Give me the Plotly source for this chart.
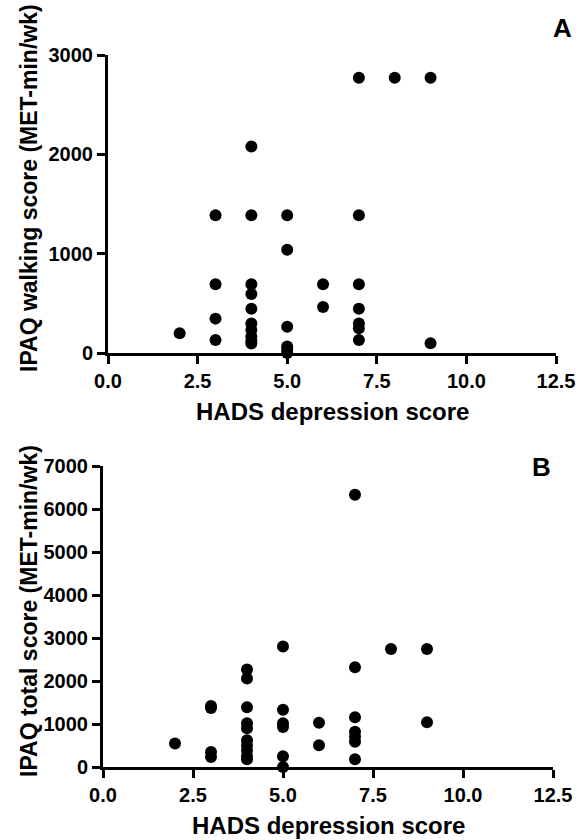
import plotly.graph_objects as go

# Panel A: HADS depression score vs IPAQ walking score
walk_x = [2,
          3, 3, 3, 3,
          4, 4, 4, 4, 4, 4, 4, 4, 4, 4,
          5, 5, 5, 5, 5, 5,
          6, 6,
          7, 7, 7, 7, 7, 7, 7,
          8,
          9, 9]
walk_y = [198,
          1386, 693, 346, 132,
          2079, 1386, 693, 594, 446, 297, 231, 165, 120, 95,
          1386, 1040, 264, 66, 33, 0,
          693, 462,
          2772, 1386, 693, 446, 297, 248, 132,
          2772,
          2772, 99]

# Panel B: HADS depression score vs IPAQ total score
total_x = [2,
           3, 3, 3, 3,
           4, 4, 4, 4, 4, 4, 4, 4, 4, 4,
           5, 5, 5, 5, 5, 5,
           6, 6,
           7, 7, 7, 7, 7, 7, 7,
           8,
           9, 9]
total_y = [545,
           1420, 1370, 350, 230,
           2270, 2060, 1390, 1020, 900, 620, 500, 380, 250, 180,
           2800, 1330, 1020, 930, 250, 0,
           1030, 505,
           6330, 2320, 1156, 821, 705, 589, 179,
           2745,
           2745, 1040]

x_ticks = [0, 2.5, 5.0, 7.5, 10.0, 12.5]
x_ticktext = ["0.0", "2.5", "5.0", "7.5", "10.0", "12.5"]
a_yticks = [0, 1000, 2000, 3000]
b_yticks = [0, 1000, 2000, 3000, 4000, 5000, 6000, 7000]

W, H = 585, 840
FONT = "Liberation Sans, Arial, sans-serif"

def px(v):
    return v / W

def py(v):
    return 1 - v / H

fig = go.Figure()
mk = dict(color="black", size=12)
fig.add_trace(go.Scatter(x=walk_x, y=walk_y, mode="markers", marker=mk,
                         xaxis="x", yaxis="y", cliponaxis=False, showlegend=False))
fig.add_trace(go.Scatter(x=total_x, y=total_y, mode="markers", marker=mk,
                         xaxis="x2", yaxis="y2", cliponaxis=False, showlegend=False))

axis_common = dict(showline=True, linewidth=3, linecolor="black", ticks="outside",
                   ticklen=8, tickwidth=3, tickcolor="black", showgrid=False,
                   zeroline=False, automargin=False,
                   tickfont=dict(family=FONT, size=20, color="black", weight="bold"))

fig.update_layout(
    template="none",
    width=W, height=H,
    margin=dict(l=0, r=0, t=0, b=0, pad=0),
    paper_bgcolor="white", plot_bgcolor="white",
    font=dict(family=FONT, color="black"),
    xaxis=dict(domain=[px(108), px(556)], range=[0, 12.5], tickvals=x_ticks,
               ticktext=x_ticktext, anchor="y", **axis_common),
    yaxis=dict(domain=[py(353), py(55)], range=[0, 3000], tickvals=a_yticks,
               anchor="x", **axis_common),
    xaxis2=dict(domain=[px(103), px(553)], range=[0, 12.5], tickvals=x_ticks,
                ticktext=x_ticktext, anchor="y2", **axis_common),
    yaxis2=dict(domain=[py(767), py(466)], range=[0, 7000], tickvals=b_yticks,
                anchor="x2", **axis_common),
)

def ann(text, x, y, size, angle=0):
    fig.add_annotation(text=text, x=px(x), y=py(y), xref="paper", yref="paper",
                       showarrow=False, textangle=angle, xanchor="center", yanchor="middle",
                       font=dict(family=FONT, size=size, color="black", weight="bold"))

ann("HADS depression score", 332, 411, 24)
ann("HADS depression score", 328, 825, 24)
ann("IPAQ walking score (MET-min/wk)", 29, 188, 23, -90)
ann("IPAQ total score (MET-min/wk)", 29, 611, 23, -90)
ann("A", 562, 28, 26)
ann("B", 541, 467, 26)

fig.write_html("out.html",
               config={"displayModeBar": False},
               post_script="document.body.style.margin='0';document.body.style.overflow='hidden';")
